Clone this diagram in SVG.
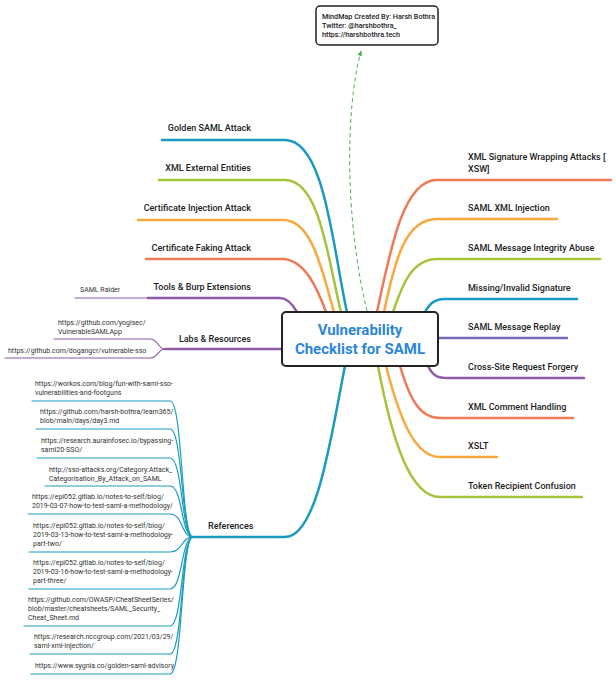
<svg xmlns="http://www.w3.org/2000/svg" width="616" height="680" viewBox="0 0 616 680">
<style>
.m{fill:none;stroke-width:2.5;stroke-linecap:round}
.s{fill:none;stroke-width:1.2;stroke-linecap:round}
.t{fill:#222;font-family:Roboto,"Liberation Sans",sans-serif;font-size:9px;font-weight:500}
.r{text-anchor:end}
.u{fill:#333;font-family:Roboto,"Liberation Sans",sans-serif;font-size:7px}
.teal{stroke:#1a9bbf}.green{stroke:#a6c43b}.orange{stroke:#f8a83c}.red{stroke:#ee7a57}.purple{stroke:#8e5ba8}.violet{stroke:#7a67b8}
</style>
<defs>
<marker id="ah" viewBox="0 0 10 10" refX="8" refY="5" markerWidth="6" markerHeight="6" orient="auto-start-reverse">
<path d="M0,1 L9,5 L0,9 z" fill="#4caf50"/>
</marker>
</defs>
<rect width="616" height="680" fill="#fff"/>
<g id="connectors">
<path d="M367,311 C345,220 345,110 361,51" fill="none" stroke="#4caf50" stroke-width="1" stroke-dasharray="4,3" marker-end="url(#ah)"/>
<path class="m teal" d="M162,140 H285 C325,140 333,250 347,312"/>
<path class="m green" d="M159,180 H285 C320,180 328,260 341,312"/>
<path class="m orange" d="M138,220 H283 C312,220 322,270 334,312"/>
<path class="m red" d="M146,259 H282 C305,259 318,290 326,312"/>
<path class="m purple" d="M148,298 H280 C288,298 293,305 297,312"/>
<path class="s purple" d="M75,298 H148"/>
<path class="m purple" d="M165,349 H284"/>
<path class="s purple" d="M54,339 H150 C158,339 158,349 165,349"/>
<path class="s purple" d="M5,358 H150 C158,358 158,349 165,349"/>
<path class="m teal" d="M193,537 H285 C318,537 332,430 345,366"/>
<g class="s teal">
<path d="M32,401 H170 C183,401 181,537 193,537"/>
<path d="M36,429 H170 C183,429 181,537 193,537"/>
<path d="M37,458 H170 C183,458 181,537 193,537"/>
<path d="M45,486 H170 C183,486 181,537 193,537"/>
<path d="M28,514 H170 C183,514 181,537 193,537"/>
<path d="M29,552 H170 C183,552 181,537 193,537"/>
<path d="M29,589 H170 C183,589 181,537 193,537"/>
<path d="M24,626 H170 C183,626 181,537 193,537"/>
<path d="M30,654 H170 C183,654 181,537 193,537"/>
<path d="M31,674 H170 C183,674 181,537 193,537"/>
</g>
<path class="m red" d="M377,312 C392,240 405,180 437,180 H611"/>
<path class="m orange" d="M384,312 C395,260 405,219 437,219 H557"/>
<path class="m green" d="M393,312 C402,285 412,259 437,259 H600"/>
<path class="m teal" d="M425,312 C430,303 435,299 445,299 H577"/>
<path class="m violet" d="M436,338 H567"/>
<path class="m purple" d="M428,366 C432,374 436,378 446,378 H584"/>
<path class="m red" d="M400,366 C410,400 420,418 440,418 H573"/>
<path class="m orange" d="M386,366 C400,420 415,457 440,457 H497"/>
<path class="m green" d="M378,366 C392,440 410,497 440,497 H582"/>
</g>
<g id="credit">
<rect x="316" y="6" width="122" height="39" rx="4" fill="#fff" stroke="#222" stroke-width="1.5"/>
<text class="u" style="font-size:7.2px;font-weight:500;fill:#222"><tspan x="322" y="19">MindMap Created By: Harsh Bothra</tspan><tspan x="322" y="28">Twitter: @harshbothra_</tspan><tspan x="322" y="37">https://harshbothra.tech</tspan></text>
</g>
<g id="center">
<rect x="282" y="312" width="156" height="54" rx="4" fill="#fff" stroke="#222" stroke-width="2"/>
<text x="360" y="335" text-anchor="middle" font-family="Roboto,'Liberation Sans',sans-serif" font-size="15" font-weight="bold" fill="#2b86d8">Vulnerability</text>
<text x="360" y="354" text-anchor="middle" font-family="Roboto,'Liberation Sans',sans-serif" font-size="15" font-weight="bold" fill="#2b86d8">Checklist for SAML</text>
</g>
<g id="left-topics">
<text class="t r" x="251" y="131">Golden SAML Attack</text>
<text class="t r" x="251" y="171">XML External Entities</text>
<text class="t r" x="251" y="211">Certificate Injection Attack</text>
<text class="t r" x="251" y="251">Certificate Faking Attack</text>
<text class="t r" x="251" y="290">Tools &amp; Burp Extensions</text>
<text class="t r" x="251" y="342">Labs &amp; Resources</text>
<text class="t" x="208" y="529">References</text>
</g>
<g id="tools-children">
<text class="u" x="80" y="292">SAML Raider</text>
</g>
<g id="labs-children">
<text class="u"><tspan x="58" y="325">https://github.com/yogisec/</tspan><tspan x="58" y="334">VulnerableSAMLApp</tspan></text>
<text class="u" x="8" y="353">https://github.com/dogangcr/vulnerable-sso</text>
</g>
<g id="references-children">
<text class="u"><tspan x="35" y="386">https://workos.com/blog/fun-with-saml-sso-</tspan><tspan x="35" y="395">vulnerabilities-and-footguns</tspan></text>
<text class="u"><tspan x="40" y="414">https://github.com/harsh-bothra/learn365/</tspan><tspan x="40" y="423">blob/main/days/day3.md</tspan></text>
<text class="u"><tspan x="41" y="443">https://research.aurainfosec.io/bypassing-</tspan><tspan x="41" y="452">saml20-SSO/</tspan></text>
<text class="u"><tspan x="49" y="472">http://sso-attacks.org/Category:Attack_</tspan><tspan x="49" y="481">Categorisation_By_Attack_on_SAML</tspan></text>
<text class="u"><tspan x="32" y="499">https://epi052.gitlab.io/notes-to-self/blog/</tspan><tspan x="32" y="508">2019-03-07-how-to-test-saml-a-methodology/</tspan></text>
<text class="u"><tspan x="33" y="528">https://epi052.gitlab.io/notes-to-self/blog/</tspan><tspan x="33" y="537">2019-03-13-how-to-test-saml-a-methodology-</tspan><tspan x="33" y="546">part-two/</tspan></text>
<text class="u"><tspan x="33" y="565">https://epi052.gitlab.io/notes-to-self/blog/</tspan><tspan x="33" y="574">2019-03-16-how-to-test-saml-a-methodology-</tspan><tspan x="33" y="583">part-three/</tspan></text>
<text class="u"><tspan x="28" y="602">https://github.com/OWASP/CheatSheetSeries/</tspan><tspan x="28" y="611">blob/master/cheatsheets/SAML_Security_</tspan><tspan x="28" y="620">Cheat_Sheet.md</tspan></text>
<text class="u"><tspan x="34" y="639">https://research.nccgroup.com/2021/03/29/</tspan><tspan x="34" y="648">saml-xml-injection/</tspan></text>
<text class="u" x="35" y="668">https://www.sygnia.co/golden-saml-advisory</text>
</g>
<g id="right-topics">
<text class="t"><tspan x="468" y="160">XML Signature Wrapping Attacks [</tspan><tspan x="468" y="172">XSW]</tspan></text>
<text class="t" x="468" y="211">SAML XML Injection</text>
<text class="t" x="468" y="251">SAML Message Integrity Abuse</text>
<text class="t" x="468" y="291">Missing/Invalid Signature</text>
<text class="t" x="468" y="330">SAML Message Replay</text>
<text class="t" x="468" y="370">Cross-Site Request Forgery</text>
<text class="t" x="468" y="410">XML Comment Handling</text>
<text class="t" x="468" y="449">XSLT</text>
<text class="t" x="468" y="489">Token Recipient Confusion</text>
</g>
</svg>
